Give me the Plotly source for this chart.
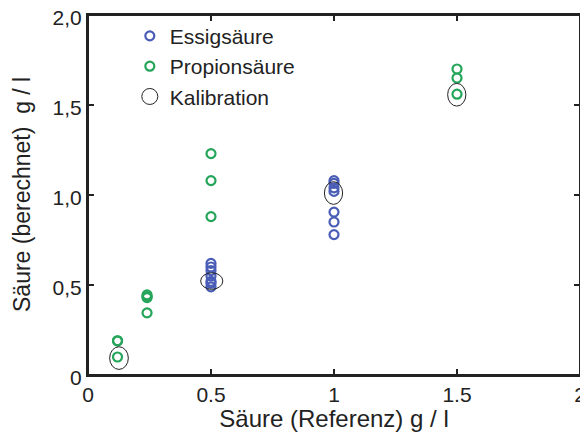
import plotly.graph_objects as go

# Data
ess_x = [0.5, 0.5, 0.5, 0.5, 0.5, 0.5, 0.5, 1.0, 1.0, 1.0, 1.0, 1.0, 1.0, 1.0]
ess_y = [0.62, 0.60, 0.58, 0.55, 0.52, 0.51, 0.49, 1.08, 1.065, 1.04, 1.02, 0.905, 0.85, 0.78]

prop_x = [0.12, 0.12, 0.12, 0.24, 0.24, 0.24, 0.24, 0.5, 0.5, 0.5, 1.5, 1.5, 1.5]
prop_y = [0.19, 0.19, 0.10, 0.445, 0.435, 0.43, 0.345, 1.23, 1.08, 0.88, 1.70, 1.65, 1.56]

cal_x = [0.126, 0.503, 0.998, 1.499]
cal_y = [0.094, 0.522, 1.011, 1.557]
cal_rx = [0.038, 0.045, 0.037, 0.037]
cal_ry = [0.063, 0.046, 0.063, 0.063]

x_ticks = [0, 0.5, 1, 1.5, 2]
x_labels = ["0", "0.5", "1", "1.5", "2"]
y_ticks = [0, 0.5, 1.0, 1.5, 2.0]
y_labels = ["0", "0,5", "1,0", "1,5", "2,0"]

x_title = "Säure (Referenz) g / l"
y_title = "Säure (berechnet)  g / l"

BLUE = "#4a5db6"
GREEN = "#25a55a"
INK = "#222222"
FONT = "Liberation Sans, Arial, sans-serif"

fig = go.Figure()
fig.add_trace(go.Scatter(
    x=ess_x, y=ess_y, mode="markers", name="Essigsäure",
    marker=dict(symbol="circle-open", size=9, color=BLUE, line=dict(width=2.2, color=BLUE)),
))
fig.add_trace(go.Scatter(
    x=prop_x, y=prop_y, mode="markers", name="Propionsäure",
    marker=dict(symbol="circle-open", size=9, color=GREEN, line=dict(width=2.2, color=GREEN)),
))
# legend entry for calibration ellipses
fig.add_trace(go.Scatter(
    x=[None], y=[None], mode="markers", name="Kalibration",
    marker=dict(symbol="circle-open", size=19, color=INK, line=dict(width=1, color=INK)),
))

for cx, cy, rx, ry in zip(cal_x, cal_y, cal_rx, cal_ry):
    fig.add_shape(type="circle", xref="x", yref="y",
                  x0=cx - rx, x1=cx + rx, y0=cy - ry, y1=cy + ry,
                  line=dict(color=INK, width=1))

# frame
fig.add_shape(type="rect", xref="paper", yref="paper", x0=0, x1=1, y0=0, y1=1,
              line=dict(color=INK, width=2), layer="above")

# y-axis title as annotation (placed further left than axis title allows)
fig.add_annotation(text=y_title, xref="paper", yref="paper", x=0, y=0.5,
                   xanchor="center", yanchor="middle", xshift=-66, textangle=-90,
                   showarrow=False, font=dict(size=23, color=INK, family=FONT))

fig.update_layout(
    width=580, height=424,
    margin=dict(l=80, r=8, t=7, b=57, autoexpand=False),
    paper_bgcolor="white", plot_bgcolor="white",
    font=dict(family=FONT, size=21, color=INK),
    showlegend=True,
    legend=dict(x=0.085, y=0.998, xanchor="left", yanchor="top",
                bgcolor="rgba(0,0,0,0)", font=dict(size=21, color=INK),
                tracegroupgap=0, itemwidth=30),
)
fig.update_xaxes(
    range=[0, 2], tickvals=x_ticks, ticktext=x_labels,
    showgrid=False, zeroline=False, showline=True, linecolor=INK, linewidth=2,
    mirror="ticks", ticks="inside", ticklen=6, tickwidth=2, tickcolor=INK,
    title=dict(text=x_title, font=dict(size=24), standoff=2),
    tickfont=dict(size=21), ticklabeloverflow="allow", automargin=False,
)
fig.update_yaxes(
    range=[0, 2], tickvals=y_ticks, ticktext=y_labels,
    showgrid=False, zeroline=False, showline=True, linecolor=INK, linewidth=2,
    mirror="ticks", ticks="inside", ticklen=6, tickwidth=2, tickcolor=INK,
    tickfont=dict(size=21), ticklabeloverflow="allow", automargin=False,
    ticklabelshift=3,
)

fig.write_html("out.html")
